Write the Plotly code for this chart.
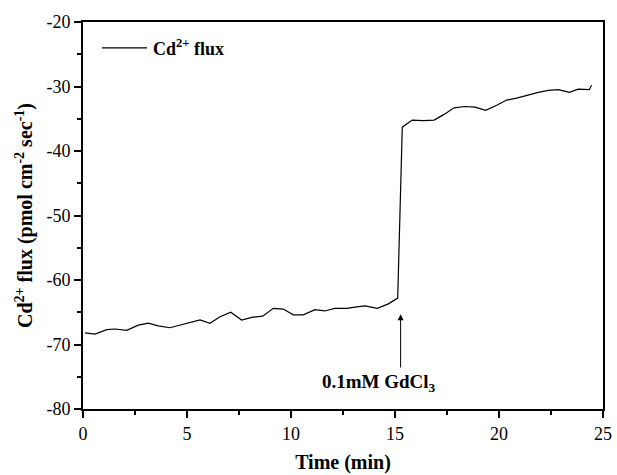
import plotly.graph_objects as go

time_min = [0.1, 0.58, 1.14, 1.54, 2.1, 2.66, 3.14, 3.62, 4.18, 4.66, 5.14, 5.63, 6.1,
            6.59, 7.1, 7.63, 8.11, 8.64, 9.15, 9.63, 10.11, 10.59, 11.15, 11.63, 12.1,
            12.68, 13.08, 13.56, 14.15, 14.68, 15.13, 15.35, 15.83, 16.36, 16.88, 17.32,
            17.84, 18.37, 18.85, 19.36, 19.89, 20.37, 20.85, 21.41, 21.89, 22.37, 22.85,
            23.38, 23.81, 24.34, 24.45]
cd_flux = [-68.2, -68.4, -67.7, -67.6, -67.8, -67.0, -66.7, -67.1, -67.4, -67.0, -66.6,
           -66.2, -66.7, -65.7, -65.0, -66.2, -65.8, -65.6, -64.4, -64.5, -65.4, -65.4,
           -64.6, -64.8, -64.4, -64.4, -64.2, -64.0, -64.4, -63.7, -62.8, -36.3, -35.2,
           -35.3, -35.2, -34.4, -33.3, -33.1, -33.2, -33.7, -32.9, -32.1, -31.8, -31.3,
           -30.9, -30.6, -30.5, -30.9, -30.4, -30.5, -29.8]

x_ticks = [0, 5, 10, 15, 20, 25]
x_tick_labels = ["0", "5", "10", "15", "20", "25"]
y_ticks = [-80, -70, -60, -50, -40, -30, -20]
y_tick_labels = ["-80", "-70", "-60", "-50", "-40", "-30", "-20"]

arrow_time = 15.27
arrow_tip = -65.3
arrow_tail = -73.8
label_text = "0.1mM GdCl<sub>3</sub>"
legend_text = "Cd<sup>2+</sup> flux"

FONT = "Liberation Serif, Times New Roman, serif"

fig = go.Figure()
fig.add_trace(go.Scatter(
    x=time_min, y=cd_flux, mode="lines",
    line=dict(color="black", width=1.2),
    name=legend_text, showlegend=False,
))

# arrow marking GdCl3 addition
fig.add_annotation(
    x=arrow_time, y=arrow_tip, ax=arrow_time, ay=arrow_tail,
    xref="x", yref="y", axref="x", ayref="y",
    showarrow=True, arrowhead=2, arrowsize=1.2, arrowwidth=1, arrowcolor="black", text="",
)
fig.add_annotation(
    x=arrow_time, y=arrow_tail, xref="x", yref="y",
    text="<b>" + label_text + "</b>", showarrow=False,
    xanchor="center", yanchor="top", yshift=0, xshift=-22,
    font=dict(family=FONT, size=19, color="black"),
)

# legend (drawn manually to match the longer sample line)
fig.add_shape(type="line", xref="paper", yref="paper",
              x0=0.0365, x1=0.123, y0=0.933, y1=0.933,
              line=dict(color="black", width=1.2))
fig.add_annotation(
    x=0.131, y=0.933, xref="paper", yref="paper",
    text="<b>" + legend_text + "</b>", showarrow=False,
    xanchor="left", yanchor="middle",
    font=dict(family=FONT, size=18, color="black"),
)

axis_common = dict(
    showline=True, linecolor="black", linewidth=2, mirror=True,
    ticks="outside", ticklen=7, tickwidth=1.5, tickcolor="black",
    showgrid=False, zeroline=False, automargin=False,
    ticklabeloverflow="allow",
    tickfont=dict(family=FONT, size=18, color="black"),
)

fig.update_xaxes(
    range=[0, 25], tickvals=x_ticks, ticktext=x_tick_labels,
    title=dict(text="<b>Time (min)</b>", font=dict(family=FONT, size=20, color="black"), standoff=12),
    minor=dict(ticks="outside", ticklen=4, tickwidth=1.5, tickcolor="black", dtick=2.5, tick0=0),
    **axis_common,
)
fig.update_yaxes(
    range=[-80, -20], tickvals=y_ticks, ticktext=y_tick_labels,
    title=dict(text="<b>Cd<sup>2+</sup> flux (pmol cm<sup>-2</sup> sec<sup>-1</sup>)</b>",
               font=dict(family=FONT, size=20, color="black"), standoff=8),
    minor=dict(ticks="outside", ticklen=4, tickwidth=1.5, tickcolor="black", dtick=5, tick0=-80),
    **axis_common,
)

fig.update_layout(
    width=617, height=475,
    margin=dict(l=83, r=14, t=22, b=66),
    paper_bgcolor="white", plot_bgcolor="white",
    showlegend=False,
)

fig.write_html(
    "out.html",
    config={"displayModeBar": False},
    post_script="document.body.style.margin='0';document.body.style.overflow='hidden';",
)
